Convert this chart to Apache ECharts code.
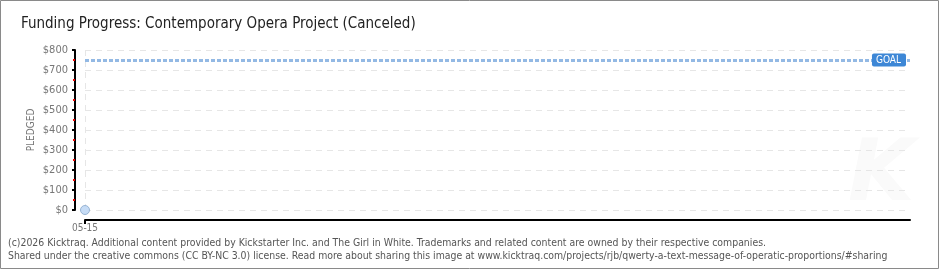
<!DOCTYPE html>
<html>
<head>
<meta charset="utf-8">
<script src="https://cdn.jsdelivr.net/npm/echarts@6/dist/echarts.min.js"></script>
<style>
  html, body { margin: 0; padding: 0; background: #fff; }
  #chart { width: 940px; height: 270px; }
</style>
</head>
<body>
<div id="chart"></div>
<script>
const dates = ['05-15']
const dayIndex = [0]
const pledged = [0]
const goal = 750
const campaignDays = 30

const chart = echarts.init(document.getElementById('chart'), null, { renderer: 'canvas' })

const option = {
  animation: false,
  backgroundColor: '#fff',
  title: {
    text: 'Funding Progress: Contemporary Opera Project (Canceled)',
    left: 16,
    top: 12,
    textStyle: { fontFamily: 'DejaVu Sans Condensed', fontSize: 15, fontWeight: 'normal', color: '#222' },
  },
  grid: { left: 85, right: 30, top: 50, bottom: 60 },
  xAxis: {
    type: 'value',
    min: 0,
    max: campaignDays,
    offset: 10,
    axisLine: { show: true, onZero: false, lineStyle: { color: '#000', width: 2 } },
    axisTick: { show: true, customValues: dayIndex, length: 4, lineStyle: { color: '#000', width: 2 } },
    axisLabel: {
      customValues: dayIndex,
      formatter: v => dates[dayIndex.indexOf(v)] || '',
      alignMinLabel: 'center',
      color: '#777',
      fontFamily: 'DejaVu Sans Condensed',
      fontSize: 10,
      margin: 3,
    },
    splitLine: { show: false },
  },
  yAxis: {
    type: 'value',
    min: 0,
    max: 800,
    interval: 100,
    offset: 10,
    name: 'PLEDGED',
    nameLocation: 'middle',
    nameGap: 39,
    nameMoveOverlap: false,
    nameTextStyle: { color: '#777', fontFamily: 'DejaVu Sans Condensed', fontSize: 10 },
    axisLine: { show: true, onZero: false, lineStyle: { color: '#000', width: 2 } },
    axisTick: { show: true, length: 3, lineStyle: { color: '#000', width: 2 } },
    minorTick: { show: true, splitNumber: 2, length: 2, lineStyle: { color: '#e00', width: 2 } },
    axisLabel: {
      formatter: v => '$' + v,
      color: '#777',
      fontFamily: 'DejaVu Sans Condensed',
      fontSize: 11,
      margin: 7,
    },
    splitLine: { show: true, lineStyle: { color: '#e6e6e6', type: [6, 5], width: 1 } },
  },
  graphic: [
    {
      type: 'rect',
      shape: { x: 0.5, y: 0.5, width: 938, height: 268 },
      style: { fill: 'none', stroke: '#8a8a8a', lineWidth: 1 },
      silent: true,
    },
    {
      type: 'text',
      left: 848,
      top: 135,
      style: { text: 'K', font: 'italic bold 86px DejaVu Sans', fill: '#fafafa' },
      silent: true,
      z: -1,
    },
    {
      type: 'text',
      left: 8,
      top: 237,
      style: {
        text: '(c)2026 Kicktraq. Additional content provided by Kickstarter Inc. and The Girl in White. Trademarks and related content are owned by their respective companies.\nShared under the creative commons (CC BY-NC 3.0) license. Read more about sharing this image at www.kicktraq.com/projects/rjb/qwerty-a-text-message-of-operatic-proportions/#sharing',
        font: '10.4px DejaVu Sans Condensed',
        fill: '#555',
        lineHeight: 13,
      },
    },
  ],
  series: [
    {
      type: 'line',
      data: dayIndex.map((d, i) => [d, pledged[i]]),
      symbol: 'circle',
      symbolSize: 9,
      itemStyle: { color: '#c6dcf6', borderColor: '#98b4d4', borderWidth: 1 },
      lineStyle: { color: '#7aa6da', width: 2 },
      z: 5,
      markLine: {
        silent: true,
        symbol: 'none',
        label: { show: false },
        data: [
          { xAxis: 0, lineStyle: { color: '#e6e6e6', type: [6, 5], width: 1 } },
          { yAxis: goal, lineStyle: { color: '#93b9e4', type: [4, 2], width: 3 } },
        ],
      },
      markPoint: {
        silent: true,
        symbolSize: 0,
        data: [{ coord: [campaignDays, goal] }],
        label: {
          show: true,
          formatter: 'GOAL',
          position: 'left',
          distance: 4,
          color: '#fff',
          fontFamily: 'DejaVu Sans Condensed',
          fontSize: 10,
          backgroundColor: '#3d87d6',
          borderRadius: 2,
          padding: [2, 5, 1, 4],
        },
      },
    },
  ],
}

chart.setOption(option)
</script>
</body>
</html>
